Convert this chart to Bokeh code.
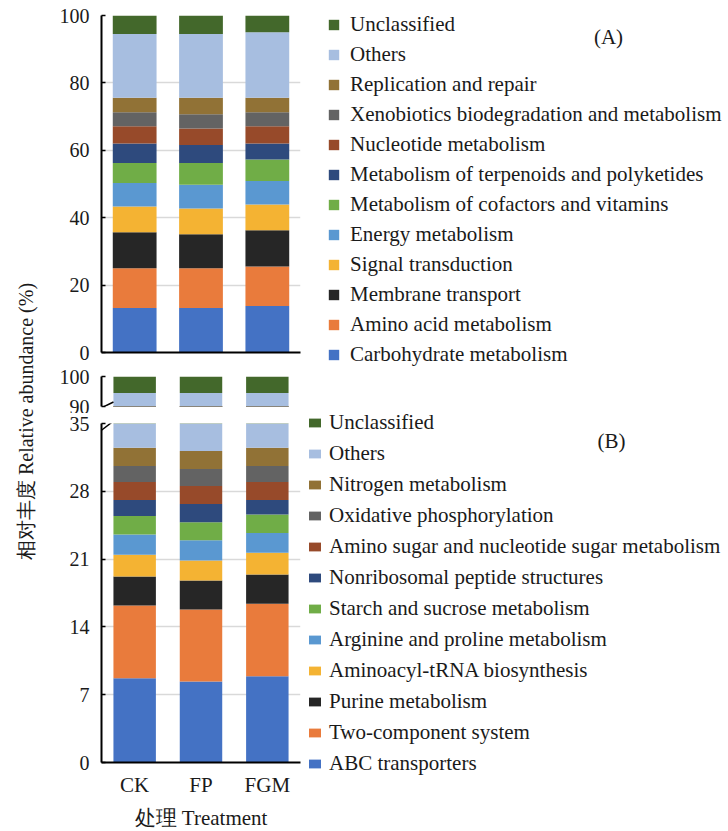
import math
from bokeh.plotting import figure
from bokeh.models import (FactorRange, Range1d, FixedTicker, Legend, LegendItem,
                          Label, Arrow, ColumnDataSource, LinearAxis)
from bokeh.layouts import row, column
from bokeh.embed import file_html
from bokeh.resources import INLINE

FONT = "Liberation Serif"
TXT = "#1a1a1a"

treatments = ["CK", "FP", "FGM"]

a_labels = ["Carbohydrate metabolism", "Amino acid metabolism", "Membrane transport",
            "Signal transduction", "Energy metabolism", "Metabolism of cofactors and vitamins",
            "Metabolism of terpenoids and polyketides", "Nucleotide metabolism",
            "Xenobiotics biodegradation and metabolism", "Replication and repair",
            "Others", "Unclassified"]
a_ck = [13.2, 11.8, 10.7, 7.6, 7.0, 5.9, 5.8, 5.1, 4.2, 4.3, 18.9, 5.5]
a_fp = [13.2, 11.8, 10.1, 7.6, 7.1, 6.4, 5.4, 4.9, 4.2, 4.9, 18.9, 5.5]
a_fgm = [13.8, 11.7, 10.8, 7.6, 7.0, 6.4, 4.7, 5.1, 4.2, 4.3, 19.4, 5.0]

b_labels = ["ABC transporters", "Two-component system", "Purine metabolism",
            "Aminoacyl-tRNA biosynthesis", "Arginine and proline metabolism",
            "Starch and sucrose metabolism", "Nonribosomal peptide structures",
            "Amino sugar and nucleotide sugar metabolism", "Oxidative phosphorylation",
            "Nitrogen metabolism", "Others", "Unclassified"]
b_ck = [8.7, 7.5, 3.0, 2.25, 2.1, 1.9, 1.65, 1.85, 1.65, 1.9, 62.0, 5.5]
b_fp = [8.35, 7.45, 3.0, 2.05, 2.1, 1.85, 1.9, 1.85, 1.75, 1.85, 62.35, 5.5]
b_fgm = [8.9, 7.5, 3.0, 2.25, 2.05, 1.9, 1.5, 1.85, 1.65, 1.9, 62.0, 5.5]

a_ticks = [0, 20, 40, 60, 80, 100]
b_top_ticks = [90, 100]
b_bot_ticks = [0, 7, 14, 21, 28, 35]

colors = ["#4472C4", "#E97B3C", "#262626", "#F4B333", "#5A98D1", "#70AD47",
          "#2E4A7D", "#974A2A", "#636363", "#917236", "#A7BEE0", "#43682B"]

stack = ["s%d" % i for i in range(12)]


def make_source(ck, fp, fgm):
    d = {"x": treatments}
    for i in range(len(ck)):
        d["s%d" % i] = [ck[i], fp[i], fgm[i]]
    return ColumnDataSource(d)


def make_fig(y0, y1, frame_h, top, bottom, ticks, xaxis=True):
    p = figure(x_range=FactorRange(*treatments), y_range=Range1d(y0, y1),
               frame_width=199, frame_height=frame_h, title=None,
               min_border_left=61, min_border_right=4,
               min_border_top=top, min_border_bottom=bottom,
               x_axis_location="below" if xaxis else None,
               output_backend="svg", toolbar_location=None)
    p.outline_line_color = None
    p.xgrid.visible = False
    p.ygrid.grid_line_color = "#D9D9D9"
    p.ygrid.grid_line_width = 1.3
    p.yaxis.ticker = FixedTicker(ticks=ticks)
    p.yaxis.axis_line_width = 2
    p.yaxis.axis_line_color = "black"
    p.yaxis.major_tick_in = 4
    p.yaxis.major_tick_out = 0
    p.yaxis.major_tick_line_width = 1.5
    p.yaxis.major_label_standoff = 12
    p.yaxis.major_label_text_font = FONT
    p.yaxis.major_label_text_font_size = "20px"
    p.yaxis.major_label_text_color = TXT
    if xaxis:
        p.xaxis.axis_line_width = 2
        p.xaxis.axis_line_color = "black"
        p.xaxis.major_tick_line_color = None
        p.xaxis.major_tick_out = 0
        p.xaxis.major_label_text_font = FONT
        p.xaxis.major_label_text_font_size = "21px"
        p.xaxis.major_label_text_color = TXT
        p.xaxis.major_label_standoff = 10
    return p


def blank_fig(w, h):
    f = figure(frame_width=w, frame_height=h, x_range=Range1d(0, w), y_range=Range1d(0, h),
               min_border=0, title=None, x_axis_location=None, y_axis_location=None,
               output_backend="svg", toolbar_location=None)
    f.grid.visible = False
    f.outline_line_color = None
    return f


def add_legend(f, src, labels, loc, gw, gh, lh, sp, standoff):
    rs = f.vbar_stack(stack, x="x", width=0.6, color=colors, line_color=None, source=src)
    for r in rs:
        r.visible = False
    items = [LegendItem(label=labels[i], renderers=[rs[i]]) for i in reversed(range(len(labels)))]
    leg = Legend(items=items, location=loc, glyph_width=gw, glyph_height=gh,
                 label_height=lh, spacing=sp, padding=0, margin=0,
                 label_standoff=standoff, border_line_color=None,
                 background_fill_alpha=0, label_text_font=FONT,
                 label_text_font_size="21px", label_text_color=TXT,
                 click_policy="none")
    try:
        leg.ncols = 1
    except Exception:
        pass
    f.add_layout(leg)


def text_label(x, y, t, size="21px"):
    return Label(x=x, y=y, text=t, text_align="center", text_baseline="middle",
                 text_font=FONT, text_font_size=size, text_color=TXT)


srcA = make_source(a_ck, a_fp, a_fgm)
srcB = make_source(b_ck, b_fp, b_fgm)

# Panel A
pA = make_fig(0, 100, 337, 15, 14, a_ticks, xaxis=False)
pA.add_layout(LinearAxis(ticker=FixedTicker(ticks=[]), axis_line_width=2,
                         axis_line_color="black", major_tick_line_color=None,
                         minor_tick_line_color=None, major_label_standoff=0), "below")
pA.vbar_stack(stack, x="x", width=0.66, color=colors, line_color=None, source=srcA)

# Panel B (broken axis)
pBt = make_fig(90, 100, 30, 10, 7, b_top_ticks, xaxis=False)
pBt.vbar_stack(stack, x="x", width=0.64, color=colors, line_color=None, source=srcB)
pBt.add_layout(Arrow(start=None, end=None, x_start=-0.05, y_start=89.0, x_end=0.18, y_end=91.5,
                     line_width=1.5, line_color="black"))

pBb = make_fig(0, 35, 339, 10, 60, b_bot_ticks)
pBb.vbar_stack(stack, x="x", width=0.64, color=colors, line_color=None, source=srcB)
pBb.add_layout(Arrow(start=None, end=None, x_start=0.0, y_start=34.3, x_end=0.17, y_end=35.2,
                     line_width=1.5, line_color="black"))
pBb.xaxis.axis_label = "处理 Treatment"
pBb.xaxis.axis_label_text_font = FONT
pBb.xaxis.axis_label_text_font_size = "21px"
pBb.xaxis.axis_label_text_font_style = "normal"
pBb.xaxis.axis_label_text_color = TXT
pBb.xaxis.axis_label_standoff = 6

# legends column
leg = blank_fig(424, 831)
add_legend(leg, srcA, a_labels, (23, 464), 13, 13, 25, 5, 10)
add_legend(leg, srcB, b_labels, (3, 55), 15, 11, 25, 6, 7)
leg.add_layout(text_label(304, 795, "(A)"))
leg.add_layout(text_label(307, 391, "(B)"))

# y label strip
lab = blank_fig(40, 831)
lab.add_layout(Label(x=25, y=410, text="相对丰度 Relative abundance (%)", angle=math.pi / 2,
                     text_align="center", text_baseline="middle", text_font=FONT,
                     text_font_size="20px", text_color=TXT))

layout = row(lab, column(pA, pBt, pBb), leg)
open("out.html", "w").write(file_html(layout, INLINE))
